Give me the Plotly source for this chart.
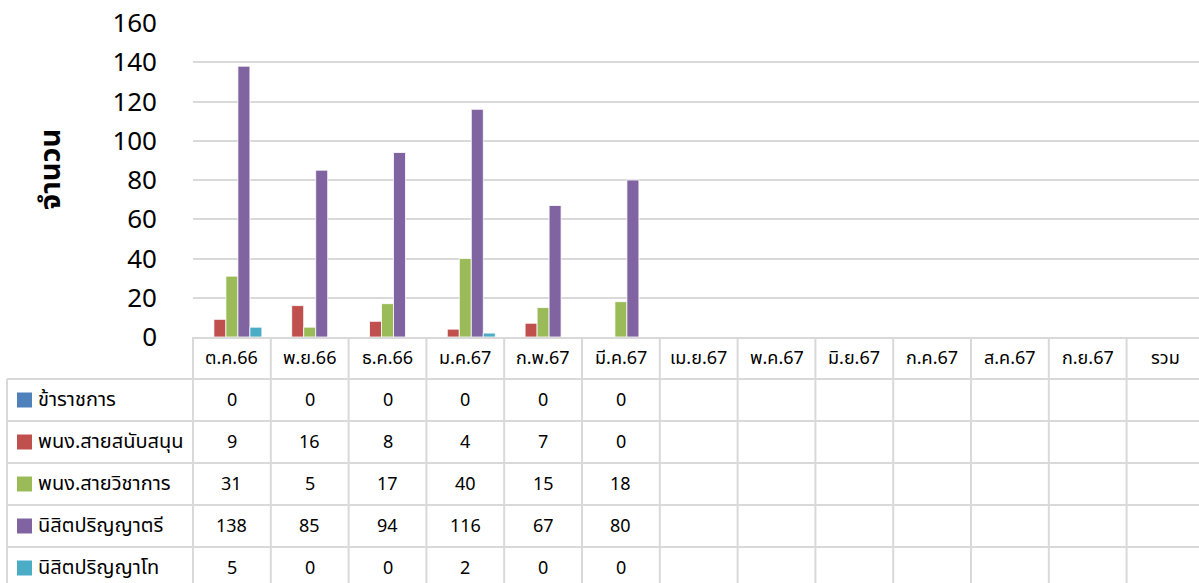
import plotly.graph_objects as go

categories = ['ต.ค.66', 'พ.ย.66', 'ธ.ค.66', 'ม.ค.67', 'ก.พ.67', 'มี.ค.67',
              'เม.ย.67', 'พ.ค.67', 'มิ.ย.67', 'ก.ค.67', 'ส.ค.67', 'ก.ย.67', 'รวม']
series_names = ['ข้าราชการ', 'พนง.สายสนับสนุน', 'พนง.สายวิชาการ', 'นิสิตปริญญาตรี', 'นิสิตปริญญาโท']
government = [0, 0, 0, 0, 0, 0]
support_staff = [9, 16, 8, 4, 7, 0]
academic_staff = [31, 5, 17, 40, 15, 18]
bachelor_students = [138, 85, 94, 116, 67, 80]
master_students = [5, 0, 0, 2, 0, 0]
colors = ['#4F81BD', '#C0504D', '#9BBB59', '#8064A2', '#4BACC6']
y_ticks = [0, 20, 40, 60, 80, 100, 120, 140, 160]

series_values = [government, support_staff, academic_staff, bachelor_students, master_students]

W, H = 1199, 583
L, R, T, B = 193, 0, 23, 246
plot_w = W - L - R
plot_h = H - T - B
col_w = 77.8
n_cols = len(categories)
x_max = -0.5 + plot_w / col_w

FONT = "Noto Sans Thai, Noto Sans, DejaVu Sans, sans-serif"
GRID = '#D9D9D9'

def px_x(px):
    return (px - L) / plot_w

def px_y(py):
    return (H - B - py) / plot_h

fig = go.Figure()
for name, vals, c in zip(series_names, series_values, colors):
    fig.add_trace(go.Bar(
        x=categories[:len(vals)], y=vals, name=name,
        marker=dict(color=c, line=dict(color='white', width=0.8)),
        showlegend=False,
    ))

shapes = []
annotations = []

axis_y = H - B
header_bottom = 379
row_h = 42
row_tops = [header_bottom + i * row_h for i in range(len(series_names))]
left_edge = 7

for yy in row_tops:
    shapes.append(dict(type='line', xref='paper', yref='paper',
                       x0=px_x(left_edge), x1=1, y0=px_y(yy), y1=px_y(yy),
                       line=dict(color=GRID, width=2)))
for k in range(n_cols + 1):
    xx = L + k * col_w
    if xx > W:
        break
    shapes.append(dict(type='line', xref='paper', yref='paper',
                       x0=px_x(xx), x1=px_x(xx), y0=px_y(axis_y), y1=px_y(H + 10),
                       line=dict(color=GRID, width=2)))
shapes.append(dict(type='line', xref='paper', yref='paper',
                   x0=px_x(left_edge), x1=px_x(left_edge), y0=px_y(header_bottom), y1=px_y(H + 10),
                   line=dict(color=GRID, width=2)))

for i, cat in enumerate(categories):
    cx = L + (i + 0.5) * col_w
    annotations.append(dict(xref='paper', yref='paper', x=px_x(cx), y=px_y((axis_y + header_bottom) / 2),
                            text=cat, showarrow=False, xanchor='center', yanchor='middle',
                            font=dict(family=FONT, size=18, color='#000000')))

for r, (name, vals, c) in enumerate(zip(series_names, series_values, colors)):
    cy = row_tops[r] + row_h / 2
    shapes.append(dict(type='rect', xref='paper', yref='paper',
                       x0=px_x(17), x1=px_x(32), y0=px_y(cy - 7.5), y1=px_y(cy + 7.5),
                       fillcolor=c, line=dict(width=0)))
    annotations.append(dict(xref='paper', yref='paper', x=px_x(36), y=px_y(cy),
                            text=name, showarrow=False, xanchor='left', yanchor='middle',
                            font=dict(family=FONT, size=20, color='#000000')))
    for i, v in enumerate(vals):
        cx = L + (i + 0.5) * col_w
        annotations.append(dict(xref='paper', yref='paper', x=px_x(cx), y=px_y(cy),
                                text=str(v), showarrow=False, xanchor='center', yanchor='middle',
                                font=dict(family=FONT, size=18, color='#000000')))

annotations.append(dict(xref='paper', yref='paper', x=px_x(51), y=px_y(170),
                        text='<b>จำนวน</b>', textangle=-90, showarrow=False,
                        xanchor='center', yanchor='middle',
                        font=dict(family=FONT, size=29, color='#000000')))

fig.update_layout(
    width=W, height=H,
    margin=dict(l=L, r=R, t=T, b=B, autoexpand=False),
    paper_bgcolor='white', plot_bgcolor='white',
    barmode='group', bargap=0.229, bargroupgap=0,
    font=dict(family=FONT, color='#000000'),
    hovermode=False,
    xaxis=dict(type='category', categoryorder='array', categoryarray=categories,
               range=[-0.5, x_max], showticklabels=False, showgrid=False,
               showline=True, linecolor=GRID, linewidth=2, zeroline=False, ticks=''),
    yaxis=dict(range=[0, 160], tickvals=y_ticks, showgrid=True, gridcolor=GRID, gridwidth=2,
               zeroline=False, showline=False, ticks='',
               tickfont=dict(family=FONT, size=26, color='#000000'),
               ticklabelstandoff=35),
    shapes=shapes,
    annotations=annotations,
)

fig.write_html("out.html", config={'displayModeBar': False},
               post_script="document.body.style.margin='0';document.body.style.overflow='hidden';")
